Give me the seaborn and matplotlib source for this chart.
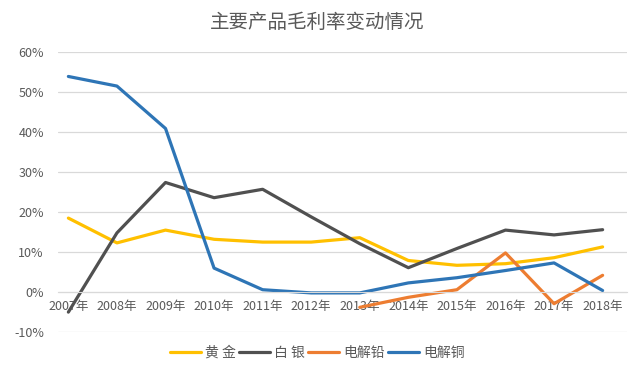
import numpy as np
import pandas as pd
import seaborn as sns
import matplotlib.pyplot as plt
from matplotlib.ticker import FuncFormatter

# 数据（单位：%）
years = ['2007年', '2008年', '2009年', '2010年', '2011年', '2012年',
         '2013年', '2014年', '2015年', '2016年', '2017年', '2018年']
gold = [18.5, 12.3, 15.5, 13.2, 12.5, 12.5, 13.6, 7.9, 6.7, 7.1, 8.6, 11.3]
silver = [-5.0, 14.8, 27.4, 23.6, 25.7, 18.8, 12.1, 6.1, 10.9, 15.5, 14.3, 15.6]
lead = [np.nan] * 6 + [-3.8, -1.3, 0.6, 9.8, -2.9, 4.2]
copper = [53.9, 51.5, 40.9, 6.0, 0.6, -0.2, -0.2, 2.3, 3.6, 5.4, 7.3, 0.4]
names = ['黄 金', '白 银', '电解铅', '电解铜']
colors = ['#FFC000', '#505050', '#ED7D31', '#2E75B6']

# 长表
df = pd.DataFrame({'year': list(range(len(years))) * 4,
                   'value': gold + silver + lead + copper,
                   'type': [n for n in names for _ in years]})

sns.set_style('white')
plt.rcParams['font.family'] = ['Noto Sans CJK SC', 'DejaVu Sans']

fig = plt.figure(figsize=(6.41, 3.8), dpi=100)
ax = fig.add_axes([0.09, 0.126, 0.888, 0.737])
sns.lineplot(data=df, x='year', y='value', hue='type', hue_order=names,
             palette=dict(zip(names, colors)), linewidth=2.3, ax=ax,
             legend=True, sort=False)

ax.set_ylim(-10, 60)
ax.set_yticks(range(-10, 61, 10))
ax.yaxis.set_major_formatter(FuncFormatter(lambda v, p: '%d%%' % v))
ax.set_xlim(-0.22, 11.5)
ax.set_xticks(range(len(years)))
ax.set_xticklabels(years)
ax.grid(axis='y', color='#d9d9d9', linewidth=0.9)
ax.set_axisbelow(True)
for s in ['top', 'right', 'left']:
    ax.spines[s].set_visible(False)
# 横轴放在0%处
ax.spines['bottom'].set_position(('data', 0))
ax.spines['bottom'].set_color('#d9d9d9')
ax.tick_params(axis='both', length=0, labelsize=9, colors='#595959')
ax.tick_params(axis='x', pad=6)
ax.tick_params(axis='y', pad=10)
ax.set_xlabel('')
ax.set_ylabel('')

h, l = ax.get_legend_handles_labels()
ax.legend(h, l, loc='center', bbox_to_anchor=(0.495, 0.072), bbox_transform=fig.transFigure,
          ncol=4, frameon=False, fontsize=10, handlelength=2.2, handletextpad=0.3,
          columnspacing=0.25, labelcolor='#595959')

fig.text(0.495, 0.942, '主要产品毛利率变动情况', ha='center', va='center',
         fontsize=14, color='#595959')

fig.savefig('out.png', dpi=100)
